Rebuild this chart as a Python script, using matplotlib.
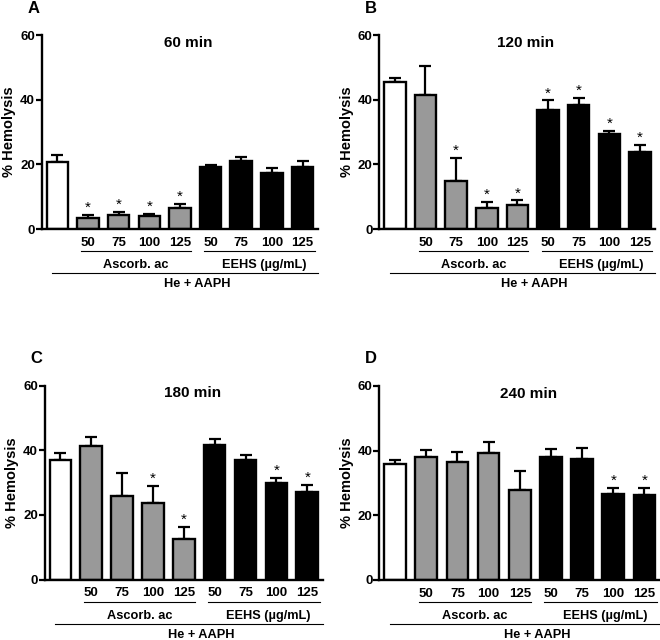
import matplotlib
matplotlib.use("Agg")
import matplotlib.pyplot as plt

plt.rcParams['font.family'] = ['Liberation Sans', 'DejaVu Sans']

# bar order: control, Ascorb. ac 50..125, EEHS 50..125
doses = ['50', '75', '100', '125']
panels = ['A', 'B', 'C', 'D']
titles = ['60 min', '120 min', '180 min', '240 min']

means_60 = [20.8, 3.3, 4.3, 4.0, 6.4, 19.1, 21.2, 17.5, 19.3]
err_60 = [2.1, 1.2, 1.1, 0.8, 1.5, 0.8, 1.2, 1.3, 1.8]
sig_60 = [0, 1, 1, 1, 1, 0, 0, 0, 0]

means_120 = [45.6, 41.4, 15.0, 6.4, 7.4, 36.9, 38.3, 29.3, 24.0]
err_120 = [1.2, 9.2, 7.1, 2.0, 1.5, 2.9, 2.3, 1.1, 2.0]
sig_120 = [0, 0, 1, 1, 1, 1, 1, 1, 1]

means_180 = [36.9, 41.4, 25.9, 23.6, 12.4, 41.5, 36.9, 30.0, 27.0]
err_180 = [2.2, 2.6, 7.0, 5.4, 3.8, 1.9, 1.6, 1.5, 2.3]
sig_180 = [0, 0, 0, 1, 1, 0, 0, 1, 1]

means_240 = [35.9, 37.9, 36.6, 39.2, 27.9, 38.0, 37.3, 26.6, 26.3]
err_240 = [1.3, 2.3, 2.8, 3.3, 5.7, 2.5, 3.4, 1.8, 2.1]
sig_240 = [0, 0, 0, 0, 0, 0, 0, 1, 1]

all_means = [means_60, means_120, means_180, means_240]
all_err = [err_60, err_120, err_180, err_240]
all_sig = [sig_60, sig_120, sig_180, sig_240]

colors = ['white'] + ['#999999'] * 4 + ['black'] * 4

# axes positions in figure fraction
positions = [
    [0.0636, 0.642, 0.418, 0.303],
    [0.575, 0.642, 0.418, 0.303],
    [0.068, 0.0945, 0.421, 0.303],
    [0.575, 0.094, 0.425, 0.303],
]

fig = plt.figure(figsize=(6.6, 6.4), dpi=100)

for k in range(4):
    ax = fig.add_axes(positions[k])
    x = list(range(9))
    ax.bar(x, all_means[k], width=0.7, color=colors, edgecolor='black',
           linewidth=1.7, zorder=2)
    ax.errorbar(x, all_means[k], yerr=[[0] * 9, all_err[k]], fmt='none',
                ecolor='black', elinewidth=1.6, capsize=4, capthick=1.6,
                zorder=1)
    for i in range(9):
        if all_sig[k][i]:
            ax.annotate('*', (x[i], all_means[k][i] + all_err[k][i]),
                        xytext=(0, 0), textcoords='offset points',
                        ha='center', va='bottom', fontsize=11)

    ax.set_xlim(-0.5, 8.5)
    ax.set_ylim(0, 60)
    ax.set_yticks([0, 20, 40, 60])
    ax.tick_params(axis='y', direction='out', length=4, width=1.6,
                   labelsize=9.5, pad=1)
    for lab in ax.get_yticklabels():
        lab.set_fontweight('bold')
    ax.set_xticks([])
    ax.spines['top'].set_visible(False)
    ax.spines['right'].set_visible(False)
    ax.spines['left'].set_linewidth(1.7)
    ax.spines['bottom'].set_linewidth(1.7)
    ax.set_ylabel('% Hemolysis', fontsize=10.5, fontweight='bold', labelpad=3)

    tr = ax.get_xaxis_transform()
    for i in range(4):
        ax.text(1 + i, -0.072, doses[i], transform=tr, ha='center',
                va='center', fontsize=9.5, fontweight='bold')
        ax.text(5 + i, -0.072, doses[i], transform=tr, ha='center',
                va='center', fontsize=9.5, fontweight='bold')
    ax.plot([0.78, 4.35], [-0.114, -0.114], transform=tr, color='black',
            lw=0.8, clip_on=False)
    ax.plot([4.79, 8.4], [-0.114, -0.114], transform=tr, color='black',
            lw=0.8, clip_on=False)
    ax.text(2.57, -0.187, 'Ascorb. ac', transform=tr, ha='center',
            va='center', fontsize=9.2, fontweight='bold')
    ax.text(6.75, -0.187, 'EEHS (µg/mL)', transform=tr, ha='center',
            va='center', fontsize=9.2, fontweight='bold')
    ax.plot([-0.17, 8.5], [-0.227, -0.227], transform=tr, color='black',
            lw=0.8, clip_on=False)
    ax.text(4.55, -0.285, 'He + AAPH', transform=tr, ha='center',
            va='center', fontsize=9.2, fontweight='bold')

    ax.text(0.53, 0.96, titles[k], transform=ax.transAxes, ha='center',
            va='center', fontsize=11, fontweight='bold')
    ax.text(-0.03, 1.14, panels[k], transform=ax.transAxes, ha='center',
            va='center', fontsize=12, fontweight='bold')

fig.savefig('out.png', dpi=100)
